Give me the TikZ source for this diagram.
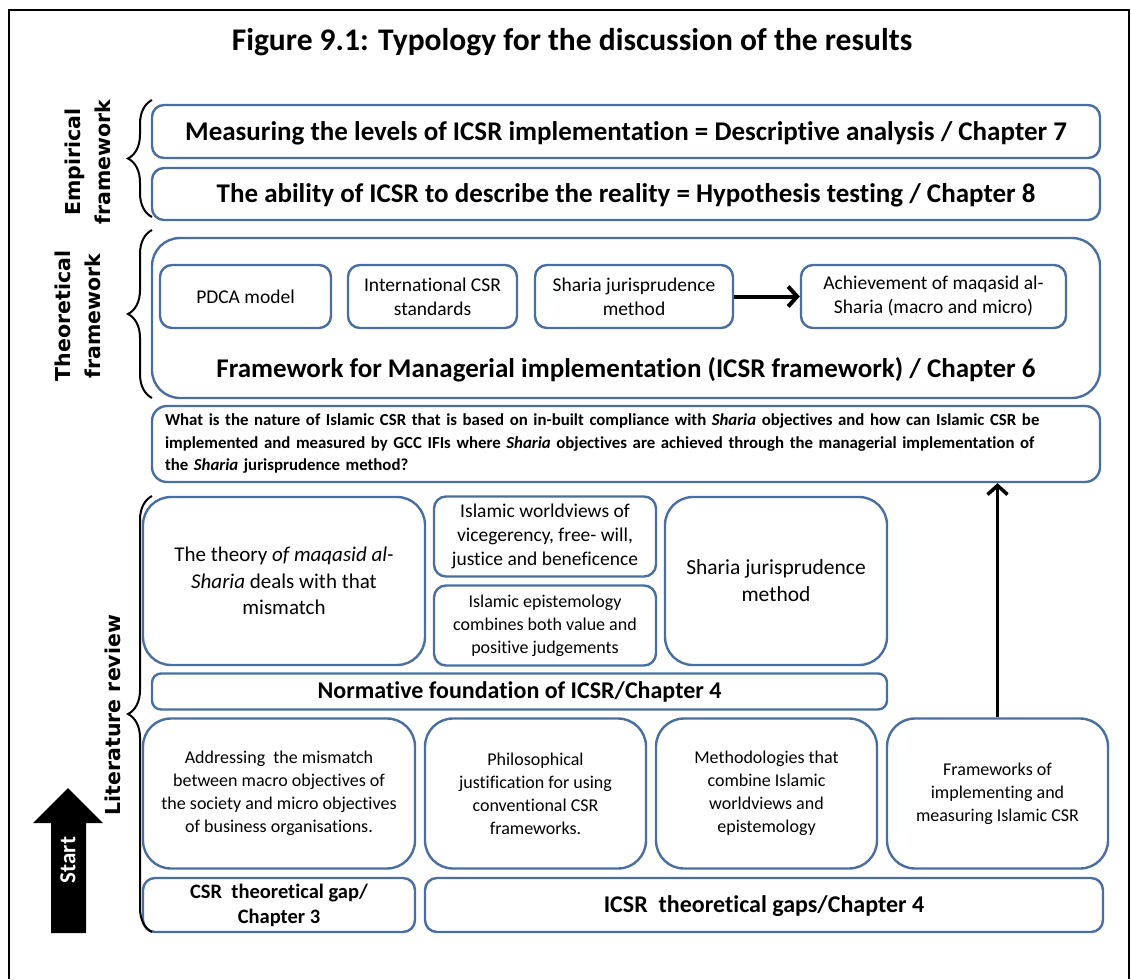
\documentclass[tikz,border=0pt]{standalone}
\usepackage{fontspec}
\setmainfont{Carlito}[Ligatures = NoCommon]
\newfontfamily\sidefont{DejaVu Sans}
\usetikzlibrary{decorations.pathreplacing,arrows.meta}
\definecolor{boxblue}{RGB}{74,110,160}
\begin{document}
\begin{tikzpicture}[
              x = 1pt, y = -1pt,
              > = {Straight Barb[length = 9pt, width = 20pt]},
              box/.style = {draw = boxblue, line width = 2.4pt, rounded corners = 12pt,
                            align = center, inner sep = 2pt},
              bigbox/.style = {box, rounded corners = 28pt},
              sidebrace/.style = {decorate, decoration = {brace, amplitude = 24pt}, line width = 2pt},
              sidelabel/.style = {rotate = 90, align = center,
                                  font = \sidefont\bfseries\fontsize{20.5}{30}\selectfont},
              head/.style = {font = \bfseries\fontsize{27}{33}\selectfont, text depth = 1pt},
              sub/.style = {font = \fontsize{19.5}{24}\selectfont},
              note/.style = {font = \fontsize{18}{23}\selectfont}
            ]
            \useasboundingbox (0, 0) rectangle (1131, 979);
            % frame and title
            \draw[line width = 1.5pt] (9, 979) -- (9, 10) -- (1129, 10) -- (1129, 979);
            \node[font = \bfseries\fontsize{31.5}{36}\selectfont] (title) at (572, 42)
              {Figure 9.1: Typology for the discussion of the results};
            % empirical framework
            \node[box, head, minimum width = 948, minimum height = 53] (measure) at (626, 131.5)
              {Measuring the levels of ICSR implementation = Descriptive analysis / Chapter 7};
            \node[box, head, minimum width = 948, minimum height = 52] (ability) at (626, 194)
              {The ability of ICSR to describe the reality = Hypothesis testing / Chapter 8};
            % theoretical framework
            \node[bigbox, minimum width = 948, minimum height = 160] (theory) at (626, 318) {};
            \node[box, sub, minimum width = 171, minimum height = 63] (pdca)    at (245.5, 296.5) {PDCA model};
            \node[box, sub, minimum width = 169, minimum height = 63] (intl)    at (432.5, 296.5) {International CSR\\standards};
            \node[box, sub, minimum width = 198, minimum height = 63] (sjm)     at (634, 296.5)   {Sharia jurisprudence\\method};
            \node[box, sub, minimum width = 265, minimum height = 63] (achieve) at (933.5, 296.5) {Achievement of maqasid al-\\Sharia (macro and micro)};
            \node[head] (manage) at (626, 368)
              {Framework for Managerial implementation (ICSR framework) / Chapter 6};
            \draw[->, line width = 4pt] (sjm) -- (achieve);
            % research question
            \node[box, rounded corners = 15pt, minimum width = 948, minimum height = 76, text width = 922,
                  align = left, font = \bfseries\fontsize{16.8}{22.5}\selectfont] (question) at (626, 444)
              {What is the nature of Islamic CSR that is based on in-built compliance with \textit{Sharia} objectives and how can Islamic CSR be\\
               implemented and measured by GCC IFIs where \textit{Sharia} objectives are achieved through the managerial implementation of\\
               the \textit{Sharia} jurisprudence method?};
            % literature review: normative foundation
            \node[bigbox, minimum width = 282, minimum height = 168, font = \fontsize{21}{26.5}\selectfont] (maqasid) at (284, 581)
              {The theory \textit{of maqasid al-}\\\textit{Sharia} deals with that\\mismatch};
            \node[box, sub, minimum width = 222, minimum height = 80] (world)   at (545, 536.5)
              {Islamic worldviews of\\vicegerency, free- will,\\justice and beneficence};
            \node[box, note, minimum width = 222, minimum height = 80] (episte)  at (545, 625.5)
              {Islamic epistemology\\combines both value and\\positive judgements};
            \node[bigbox, font = \fontsize{21.5}{27}\selectfont, minimum width = 222, minimum height = 168] (litsjm) at (776, 581)
              {Sharia jurisprudence\\method};
            \node[box, rounded corners = 9pt, minimum width = 735, minimum height = 36,
                  font = \bfseries\fontsize{24}{29}\selectfont] (normative) at (519.5, 691.5)
              {Normative foundation of ICSR/Chapter 4};
            % literature review: theoretical gaps
            \node[bigbox, note, minimum width = 272, minimum height = 150] (address)    at (279, 793.5)
              {Addressing\ \ the mismatch\\between macro objectives of\\the society and micro objectives\\of business organisations.};
            \node[bigbox, note, minimum width = 221, minimum height = 150] (philo)      at (535.5, 793.5)
              {Philosophical\\justification for using\\conventional CSR\\frameworks.};
            \node[bigbox, note, minimum width = 221, minimum height = 150] (method)     at (766.5, 793.5)
              {Methodologies that\\combine Islamic\\worldviews and\\epistemology};
            \node[bigbox, note, minimum width = 221, minimum height = 150] (frameworks) at (997.5, 793.5)
              {Frameworks of\\implementing and\\measuring Islamic CSR};
            \node[box, minimum width = 272, minimum height = 54, font = \bfseries\fontsize{20.5}{25}\selectfont] (csrgap)  at (279, 905)
              {CSR\ \ theoretical gap/\\Chapter 3};
            \node[box, minimum width = 678, minimum height = 54, font = \bfseries\fontsize{24}{28}\selectfont, text depth = 1pt] (icsrgap) at (764, 905)
              {ICSR\ \ theoretical gaps/Chapter 4};
            \draw[->, line width = 3.5pt] (frameworks.north) -- (frameworks.north |- question.south);
            % braces and their labels
            \draw[sidebrace] (152, 217) -- (152, 100);
            \draw[sidebrace] (152, 398) -- (152, 230);
            \draw[sidebrace] (152, 932) -- (152, 496);
            \node[sidelabel] (empirical)   at (88, 162) {Empirical\\framework};
            \node[sidelabel] (theoretical) at (78, 316) {Theoretical\\framework};
            \node[sidelabel] (literature)  at (113, 715) {Literature review};
            % start arrow
            \fill (51, 933) -- (51, 823) -- (33, 823) -- (68, 788) -- (103, 823) -- (86, 823) -- (86, 933) -- cycle;
            \node[rotate = 90, text = white, font = \bfseries\fontsize{23}{26}\selectfont] (start) at (68, 860) {Start};
          \end{tikzpicture}
\end{document}
